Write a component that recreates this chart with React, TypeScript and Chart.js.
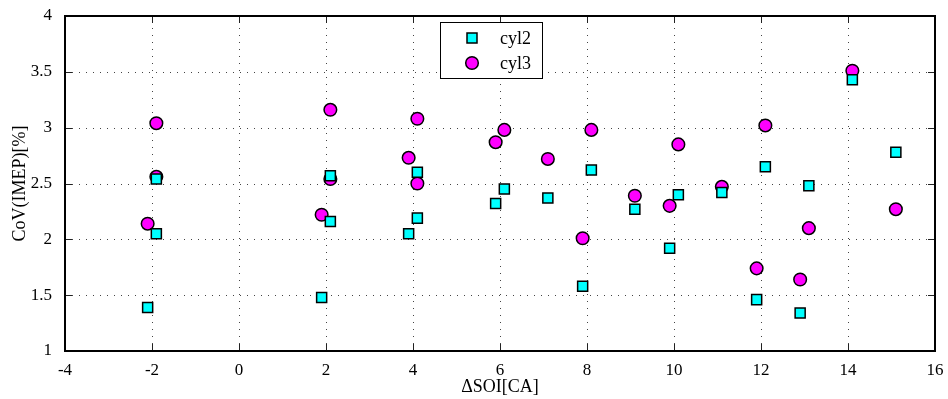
import React, { useEffect, useRef } from 'react';
import { Chart, registerables } from 'chart.js';

Chart.register(...registerables);

const cyl2X = [-2.1, -1.9, -1.9, 1.9, 2.1, 2.1, 3.9, 4.1, 4.1, 5.9, 6.1, 7.1, 7.9, 8.1, 9.1, 9.9, 10.1, 11.1, 11.9, 12.1, 12.9, 13.1, 14.1, 15.1];
const cyl2Y = [1.39, 2.05, 2.54, 1.48, 2.16, 2.57, 2.05, 2.19, 2.6, 2.32, 2.45, 2.37, 1.58, 2.62, 2.27, 1.92, 2.4, 2.42, 1.46, 2.65, 1.34, 2.48, 3.43, 2.78];
const cyl3X = [-2.1, -1.9, -1.9, 1.9, 2.1, 2.1, 3.9, 4.1, 4.1, 5.9, 6.1, 7.1, 7.9, 8.1, 9.1, 9.9, 10.1, 11.1, 11.9, 12.1, 12.9, 13.1, 14.1, 15.1];
const cyl3Y = [2.14, 2.56, 3.04, 2.22, 2.54, 3.16, 2.73, 2.5, 3.08, 2.87, 2.98, 2.72, 2.01, 2.98, 2.39, 2.3, 2.85, 2.47, 1.74, 3.02, 1.64, 2.1, 3.51, 2.27];
const xTicks = [-4, -2, 0, 2, 4, 6, 8, 10, 12, 14, 16];
const yTicks = [1, 1.5, 2, 2.5, 3, 3.5, 4];
const xTickLabels = ['-4', '-2', '0', '2', '4', '6', '8', '10', '12', '14', '16'];
const yTickLabels = ['1', '1.5', '2', '2.5', '3', '3.5', '4'];
const seriesLabels = ['cyl2', 'cyl3'];
const xTitle = 'ΔSOI[CA]';
const yTitle = 'CoV(IMEP)[%]';

const FONT = 'Liberation Serif, Times New Roman, serif';
const FS = 17;

function drawMarker(ctx: CanvasRenderingContext2D, style: string, x: number, y: number) {
  ctx.save();
  ctx.setLineDash([]);
  ctx.lineWidth = 1.5;
  ctx.strokeStyle = '#000';
  if (style === 'rect') {
    ctx.fillStyle = '#00ffff';
    ctx.beginPath();
    ctx.rect(x - 5, y - 5, 10, 10);
    ctx.fill();
    ctx.stroke();
  } else {
    ctx.fillStyle = '#ff00ff';
    ctx.beginPath();
    ctx.arc(x, y, 6.3, 0, Math.PI * 2);
    ctx.fill();
    ctx.stroke();
  }
  ctx.restore();
}

const framePlugin = {
  id: 'matlabFrame',
  beforeDatasetsDraw(chart: any) {
    const { ctx, chartArea: a, scales } = chart;
    const x = scales.x;
    const y = scales.y;
    ctx.save();
    ctx.strokeStyle = '#444';
    ctx.lineWidth = 1;
    ctx.setLineDash([1, 6]);
    for (const v of xTicks) {
      const px = Math.round(x.getPixelForValue(v)) + 0.5;
      if (px <= a.left + 2 || px >= a.right - 2) continue;
      ctx.beginPath();
      ctx.moveTo(px, a.bottom);
      ctx.lineTo(px, a.top);
      ctx.stroke();
    }
    for (const v of yTicks) {
      const py = Math.round(y.getPixelForValue(v)) + 0.5;
      if (py <= a.top + 2 || py >= a.bottom - 2) continue;
      ctx.beginPath();
      ctx.moveTo(a.left, py);
      ctx.lineTo(a.right, py);
      ctx.stroke();
    }
    ctx.restore();
  },
  afterDatasetsDraw(chart: any) {
    const { ctx, chartArea: a, scales } = chart;
    const x = scales.x;
    const y = scales.y;
    ctx.save();
    ctx.setLineDash([]);
    ctx.strokeStyle = '#222';
    ctx.lineWidth = 1;
    const tl = 7;
    for (const v of xTicks) {
      const px = Math.round(x.getPixelForValue(v)) + 0.5;
      ctx.beginPath();
      ctx.moveTo(px, a.bottom);
      ctx.lineTo(px, a.bottom - tl);
      ctx.moveTo(px, a.top);
      ctx.lineTo(px, a.top + tl);
      ctx.stroke();
    }
    for (const v of yTicks) {
      const py = Math.round(y.getPixelForValue(v)) + 0.5;
      ctx.beginPath();
      ctx.moveTo(a.left, py);
      ctx.lineTo(a.left + tl, py);
      ctx.moveTo(a.right, py);
      ctx.lineTo(a.right - tl, py);
      ctx.stroke();
    }
    ctx.strokeStyle = '#000';
    ctx.lineWidth = 2;
    ctx.strokeRect(a.left, a.top, a.right - a.left, a.bottom - a.top);
    const lx = a.left + 375;
    const ly = a.top + 6;
    const lw = 102;
    const lh = 56;
    ctx.fillStyle = '#fff';
    ctx.fillRect(lx, ly, lw, lh);
    ctx.strokeStyle = '#000';
    ctx.lineWidth = 1;
    ctx.strokeRect(lx + 0.5, ly + 0.5, lw, lh);
    const styles = ['rect', 'circle'];
    seriesLabels.forEach((lab, i) => {
      const cy = ly + 16 + i * 25;
      drawMarker(ctx, styles[i], lx + 32, cy);
      ctx.fillStyle = '#000';
      ctx.font = `${FS + 1}px ${FONT}`;
      ctx.textBaseline = 'middle';
      ctx.textAlign = 'left';
      ctx.fillText(lab, lx + 60, cy + 1);
    });
    ctx.restore();
  },
};

export default function App() {
  const ref = useRef<HTMLCanvasElement | null>(null);
  useEffect(() => {
    if (!ref.current) return;
    const chart = new Chart(ref.current, {
      type: 'scatter',
      data: {
        datasets: [
          {
            label: seriesLabels[0],
            data: cyl2X.map((v, i) => ({ x: v, y: cyl2Y[i] })),
            pointStyle: 'rect',
            pointRadius: 7.1,
            backgroundColor: '#00ffff',
            borderColor: '#000',
            pointBorderWidth: 1.5,
          },
          {
            label: seriesLabels[1],
            data: cyl3X.map((v, i) => ({ x: v, y: cyl3Y[i] })),
            pointStyle: 'circle',
            pointRadius: 6.3,
            backgroundColor: '#ff00ff',
            borderColor: '#000',
            pointBorderWidth: 1.5,
          },
        ],
      },
      options: {
        responsive: false,
        animation: false,
        events: [],
        layout: { padding: { top: 16, right: 13, left: 0, bottom: 0 } },
        plugins: { legend: { display: false }, tooltip: { enabled: false } },
        scales: {
          x: {
            type: 'linear',
            min: -4,
            max: 16,
            afterFit: (s: any) => { s.height = 48; },
            afterBuildTicks: (s: any) => { s.ticks = xTicks.map((v) => ({ value: v })); },
            ticks: {
              color: '#000',
              padding: 1,
              font: { family: FONT, size: FS },
              maxRotation: 0,
              callback: (v: any) => xTickLabels[xTicks.indexOf(Number(v))] ?? String(v),
            },
            grid: { display: false },
            border: { display: false },
            title: { display: true, text: xTitle, color: '#000', font: { family: FONT, size: FS + 1 }, padding: { top: 0, bottom: 1 } },
          },
          y: {
            type: 'linear',
            min: 1,
            max: 4,
            afterFit: (s: any) => { s.width = 65; },
            afterBuildTicks: (s: any) => { s.ticks = yTicks.map((v) => ({ value: v })); },
            ticks: {
              color: '#000',
              padding: 5,
              font: { family: FONT, size: FS },
              callback: (v: any) => yTickLabels[yTicks.indexOf(Number(v))] ?? String(v),
            },
            grid: { display: false },
            border: { display: false },
            title: { display: true, text: yTitle, color: '#000', font: { family: FONT, size: FS + 1 }, padding: { top: 9, bottom: 0 } },
          },
        },
      },
      plugins: [framePlugin],
    });
    return () => chart.destroy();
  }, []);
  return (
    <div style={{ position: 'fixed', left: 0, top: 0, width: 948, height: 399, background: '#fff' }}>
      <canvas ref={ref} width={948} height={399} style={{ display: 'block' }} />
    </div>
  );
}
